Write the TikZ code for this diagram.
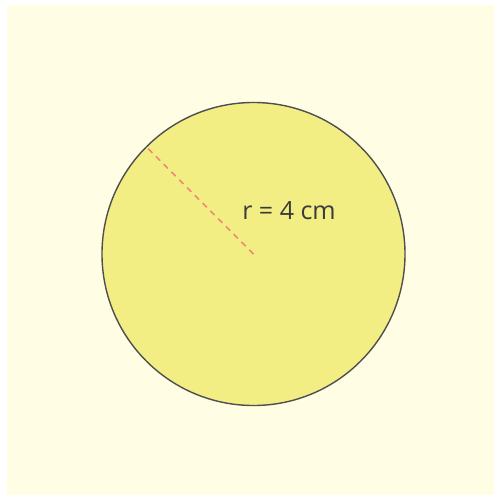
\documentclass[tikz,border=0pt]{standalone}
\usepackage{fontspec}
\setmainfont{Open Sans}
\definecolor{bgcream}{HTML}{FFFDE3}
\definecolor{discfill}{HTML}{F3EE84}
\definecolor{rimgray}{HTML}{4F4F4F}
\definecolor{radred}{HTML}{EE8A72}
\definecolor{txtgray}{HTML}{3A3A3A}
\tikzset{
  disc/.style={draw=rimgray, fill=discfill, line width=1.4pt},
  radline/.style={draw=radred, line width=1.5pt, dash pattern=on 6pt off 5pt},
  lbl/.style={text=txtgray, font=\fontsize{25}{30}\selectfont, inner sep=0pt}
}
\begin{document}
\begin{tikzpicture}[x=1pt,y=-1pt]
\useasboundingbox (0,0) rectangle (494,500);
\fill[white] (0,0) rectangle (494,500);
\fill[bgcream] (7,5) rectangle (494,495);
\node[disc, circle, minimum size=303pt, inner sep=0pt] (c) at (253.5,254) {};
\coordinate (o) at (253.5,254);
\coordinate (p) at (146.5,147);
\draw[radline] (o) -- (p);
\node[lbl] (r) at (289,211) {r = 4 cm};
\end{tikzpicture}
\end{document}
